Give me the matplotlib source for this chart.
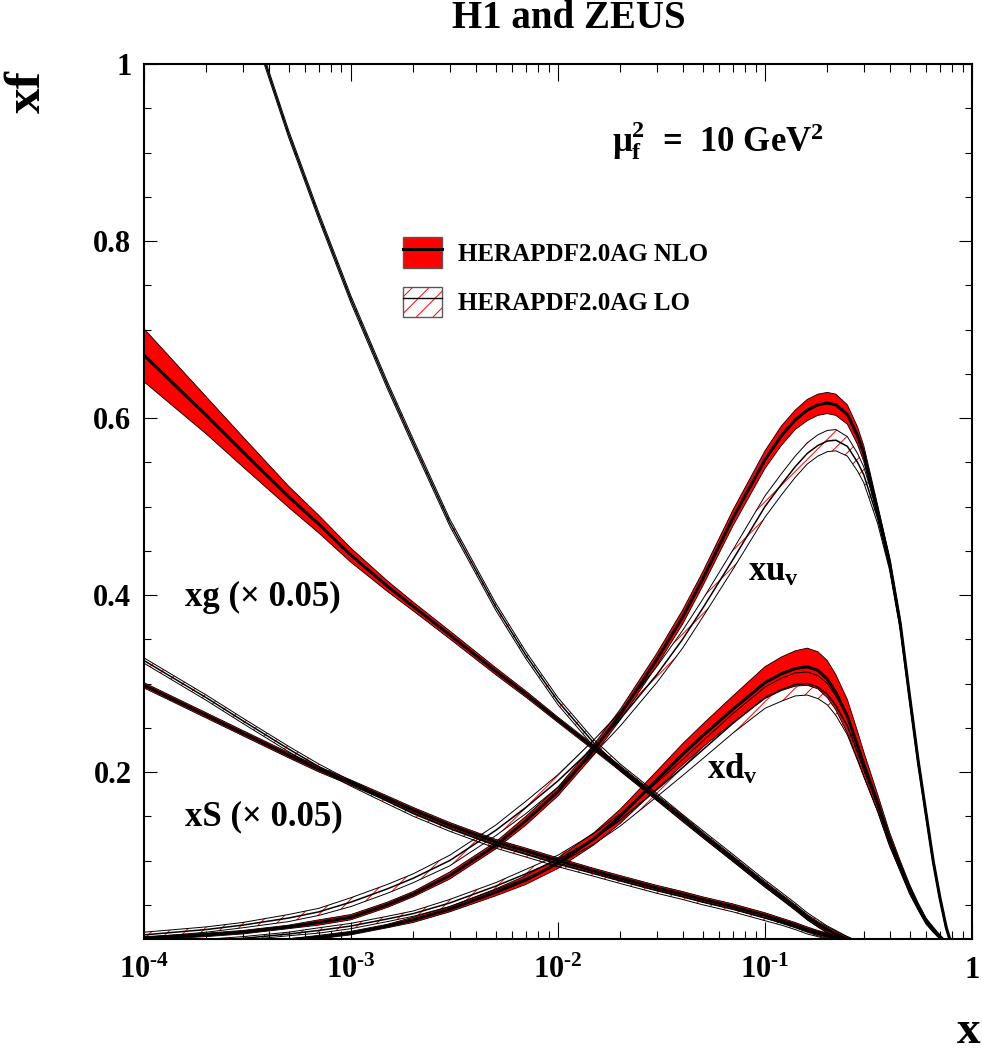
import numpy as np
import matplotlib
matplotlib.use('Agg')
import matplotlib.pyplot as plt
from matplotlib.patches import Patch
from matplotlib.lines import Line2D
from matplotlib.ticker import MultipleLocator, LogLocator, NullFormatter

plt.rcParams['font.family'] = 'Liberation Serif'
plt.rcParams['font.weight'] = 'bold'
plt.rcParams['mathtext.fontset'] = 'custom'
plt.rcParams['mathtext.rm'] = 'Liberation Serif:bold'
plt.rcParams['mathtext.it'] = 'Liberation Serif:bold'
plt.rcParams['mathtext.bf'] = 'Liberation Serif:bold'
plt.rcParams['mathtext.default'] = 'rm'
plt.rcParams['hatch.linewidth'] = 0.7

nan = np.nan

x_pts = [1e-4, 2e-4, 3e-4, 5e-4, 7e-4, 1e-3, 1.5e-3, 2e-3, 3e-3, 5e-3, 7e-3,
         1e-2, 1.5e-2, 2e-2, 3e-2, 4e-2, 5e-2, 7e-2,
         0.1, 0.12, 0.14, 0.16, 0.18, 0.2, 0.22, 0.25, 0.28, 0.3,
         0.35, 0.4, 0.45, 0.5, 0.55, 0.6, 0.65, 0.7, 0.75, 0.8]

# xg (x 0.05)
xg_nlo = [0.671, 0.603, 0.562, 0.511, 0.480, 0.445, 0.410, 0.387, 0.355, 0.314, 0.288,
          0.259, 0.227, 0.204, 0.171, 0.148, 0.129, 0.102,
          0.073, 0.059, 0.047, 0.036, 0.028, 0.022, 0.017, 0.011, 0.006, 0.004] + [nan] * 10
xg_nlo_err = [0.030, 0.021, 0.017, 0.012, 0.010, 0.008, 0.006, 0.005, 0.0045, 0.004, 0.0035,
              0.003, 0.003, 0.003, 0.003, 0.003, 0.003, 0.003,
              0.003, 0.003, 0.003, 0.003, 0.003, 0.003, 0.003, 0.003, 0.003, 0.002] + [nan] * 10
xg_lo = [nan, nan, 1.077, 0.921, 0.828, 0.734, 0.637, 0.572, 0.482, 0.387, 0.332,
         0.280, 0.232, 0.205, 0.172, 0.148, 0.130, 0.103,
         0.074, 0.060, 0.048, 0.037, 0.029, 0.022, 0.017, 0.011, 0.006, 0.004] + [nan] * 10
xg_lo_err = [nan, nan] + [0.004] * 23 + [0.003, 0.003, 0.002] + [nan] * 10

# xS (x 0.05)
xs_nlo = [0.298, 0.264, 0.244, 0.219, 0.203, 0.188, 0.170, 0.157, 0.140, 0.121, 0.111,
          0.100, 0.088, 0.080, 0.069, 0.062, 0.056, 0.048,
          0.038, 0.032, 0.027, 0.022, 0.018, 0.015, 0.012, 0.009, 0.006, 0.004] + [nan] * 10
xs_nlo_err = [0.003] * 28 + [nan] * 10
xs_lo = [0.326, 0.284, 0.258, 0.226, 0.206, 0.187, 0.167, 0.153, 0.136, 0.117, 0.107,
         0.096, 0.085, 0.077, 0.066, 0.059, 0.053, 0.045,
         0.035, 0.030, 0.025, 0.020, 0.017, 0.014, 0.011, 0.008, 0.005, 0.003] + [nan] * 10
xs_lo_err = [0.003] * 28 + [nan] * 10

# xu_v
xuv_nlo = [0.012, 0.016, 0.019, 0.025, 0.030, 0.036, 0.050, 0.062, 0.083, 0.117, 0.145,
           0.178, 0.226, 0.265, 0.327, 0.375, 0.418, 0.487,
           0.553, 0.580, 0.598, 0.609, 0.615, 0.617, 0.615, 0.604, 0.580, 0.560,
           0.495, 0.437, 0.368, 0.285, 0.212, 0.153, 0.099, 0.058, 0.025, 0.003]
xuv_nlo_err = [0.002, 0.002, 0.002, 0.002, 0.003, 0.003, 0.003, 0.003, 0.004, 0.004, 0.005,
               0.005, 0.006, 0.006, 0.007, 0.008, 0.008, 0.009,
               0.010, 0.011, 0.011, 0.012, 0.012, 0.012, 0.012, 0.011, 0.010, 0.009,
               0.007, 0.006, 0.005, 0.004, 0.004, 0.003, 0.003, 0.002, 0.002, 0.001]
xuv_lo = [0.016, 0.022, 0.027, 0.035, 0.042, 0.053, 0.068, 0.080, 0.100, 0.134, 0.160,
          0.190, 0.229, 0.260, 0.310, 0.350, 0.385, 0.440,
          0.500, 0.525, 0.545, 0.560, 0.569, 0.574, 0.575, 0.568, 0.550, 0.536,
          0.487, 0.433, 0.365, 0.283, 0.210, 0.151, 0.098, 0.057, 0.024, 0.003]
xuv_lo_err = [0.003, 0.003, 0.003, 0.004, 0.004, 0.005, 0.005, 0.005, 0.006, 0.006, 0.007,
              0.007, 0.008, 0.008, 0.009, 0.010, 0.010, 0.011,
              0.012, 0.012, 0.012, 0.012, 0.012, 0.012, 0.012, 0.011, 0.010, 0.009,
              0.006, 0.005, 0.004, 0.004, 0.003, 0.003, 0.002, 0.002, 0.002, 0.001]

# xd_v
xdv_nlo = [0.003, 0.005, 0.007, 0.0105, 0.0135, 0.018, 0.026, 0.033, 0.045, 0.064, 0.078,
           0.097, 0.125, 0.150, 0.191, 0.220, 0.241, 0.271,
           0.301, 0.311, 0.317, 0.319, 0.315, 0.305, 0.290, 0.263, 0.230, 0.209,
           0.165, 0.124, 0.094, 0.068, 0.048, 0.032, 0.022, 0.014, 0.007, 0.002]
xdv_nlo_err = [0.001, 0.001, 0.001, 0.001, 0.002, 0.002, 0.002, 0.003, 0.003, 0.004, 0.005,
               0.006, 0.007, 0.008, 0.010, 0.012, 0.013, 0.015,
               0.018, 0.019, 0.020, 0.021, 0.021, 0.021, 0.020, 0.019, 0.016, 0.014,
               0.010, 0.008, 0.006, 0.005, 0.004, 0.003, 0.003, 0.002, 0.002, 0.001]
xdv_lo = [0.006, 0.009, 0.012, 0.017, 0.021, 0.026, 0.034, 0.040, 0.052, 0.071, 0.085,
          0.101, 0.125, 0.146, 0.180, 0.205, 0.225, 0.255,
          0.284, 0.293, 0.299, 0.300, 0.296, 0.288, 0.275, 0.252, 0.222, 0.203,
          0.162, 0.122, 0.092, 0.066, 0.047, 0.031, 0.021, 0.013, 0.006, 0.001]
xdv_lo_err = [0.002, 0.002, 0.002, 0.002, 0.003, 0.003, 0.003, 0.003, 0.004, 0.004, 0.005,
              0.005, 0.006, 0.007, 0.008, 0.009, 0.010, 0.011,
              0.012, 0.013, 0.013, 0.013, 0.013, 0.012, 0.011, 0.010, 0.009, 0.008,
              0.006, 0.005, 0.004, 0.004, 0.003, 0.003, 0.002, 0.002, 0.002, 0.001]

fig = plt.figure(figsize=(9.82, 10.52), dpi=100)
ax = fig.add_axes([0.1466, 0.1074, 0.8432, 0.8317])


def nlo_band(c, e):
    c = np.array(c)
    e = np.array(e)
    ax.fill_between(x_pts, c - e, c + e, facecolor='red', edgecolor='none', zorder=2)
    ax.plot(x_pts, c + e, color='k', lw=0.6, zorder=4)
    ax.plot(x_pts, c - e, color='k', lw=0.6, zorder=4)
    ax.plot(x_pts, c, color='k', lw=2.2, zorder=5)


def lo_band(c, e):
    c = np.array(c)
    e = np.array(e)
    ax.fill_between(x_pts, c - e, c + e, facecolor='none', edgecolor='red',
                    hatch='//', lw=0, zorder=3)
    ax.plot(x_pts, c + e, color='k', lw=0.7, zorder=4)
    ax.plot(x_pts, c - e, color='k', lw=0.7, zorder=4)
    ax.plot(x_pts, c, color='k', lw=1.1, zorder=4)


for c, e in [(xg_nlo, xg_nlo_err), (xs_nlo, xs_nlo_err), (xuv_nlo, xuv_nlo_err), (xdv_nlo, xdv_nlo_err)]:
    nlo_band(c, e)
for c, e in [(xg_lo, xg_lo_err), (xs_lo, xs_lo_err), (xuv_lo, xuv_lo_err), (xdv_lo, xdv_lo_err)]:
    lo_band(c, e)

ax.set_xscale('log')
ax.set_xlim(1e-4, 1)
ax.set_ylim(0.0113, 1.0)
ax.set_xticks([1e-4, 1e-3, 1e-2, 1e-1, 1])
ax.set_xticklabels([r'$10^{\text{-}4}$', r'$10^{\text{-}3}$', r'$10^{\text{-}2}$',
                    r'$10^{\text{-}1}$', '1'])
ax.xaxis.set_minor_locator(LogLocator(base=10, subs=np.arange(2, 10), numticks=20))
ax.xaxis.set_minor_formatter(NullFormatter())
ax.set_yticks([0.2, 0.4, 0.6, 0.8, 1.0])
ax.set_yticklabels(['0.2', '0.4', '0.6', '0.8', '1'])
ax.yaxis.set_minor_locator(MultipleLocator(0.05))

ax.tick_params(which='both', direction='in', top=True, right=True, width=0.8, labelsize=22)
ax.tick_params(axis='x', which='major', length=12, pad=12)
ax.tick_params(axis='x', which='minor', length=6)
ax.tick_params(axis='y', which='major', length=9.5, pad=9)
ax.tick_params(axis='y', which='minor', length=5)
for s in ax.spines.values():
    s.set_linewidth(1.5)

ax.text(0.565, 0.913, r'$\mu_f^2$  =  10 GeV$^2$', transform=ax.transAxes, fontsize=25, va='center')
ax.text(1.58e-4, 0.397, 'xg (× 0.05)', fontsize=25, va='center')
ax.text(1.58e-4, 0.149, 'xS (× 0.05)', fontsize=25, va='center')
ax.text(0.0828, 0.426, r'xu$_v$', fontsize=25, va='center')
ax.text(0.0525, 0.202, r'xd$_v$', fontsize=25, va='center')

h_nlo = (Patch(facecolor='red', edgecolor='0.35', lw=1), Line2D([], [], color='k', lw=2.2))
h_lo = (Patch(facecolor='white', edgecolor='red', hatch='//', lw=0),
        Patch(facecolor='none', edgecolor='0.35', lw=1), Line2D([], [], color='k', lw=1))
ax.legend([h_nlo, h_lo], ['HERAPDF2.0AG NLO', 'HERAPDF2.0AG LO'], loc='upper left',
          bbox_to_anchor=(0.313, 0.802), frameon=False, prop={'size': 18, 'weight': 'bold'},
          handlelength=1.55, handleheight=1.5, handletextpad=0.65, labelspacing=0.75,
          borderpad=0, borderaxespad=0)

fig.text(0.579, 0.982, 'H1 and ZEUS', ha='center', va='center', fontsize=28)
fig.text(0.0285, 0.9125, 'xf', rotation=90, ha='center', va='center', fontsize=37)
fig.text(0.986, 0.019, 'x', ha='center', va='center', fontsize=34)

fig.savefig('out.png', dpi=100)
